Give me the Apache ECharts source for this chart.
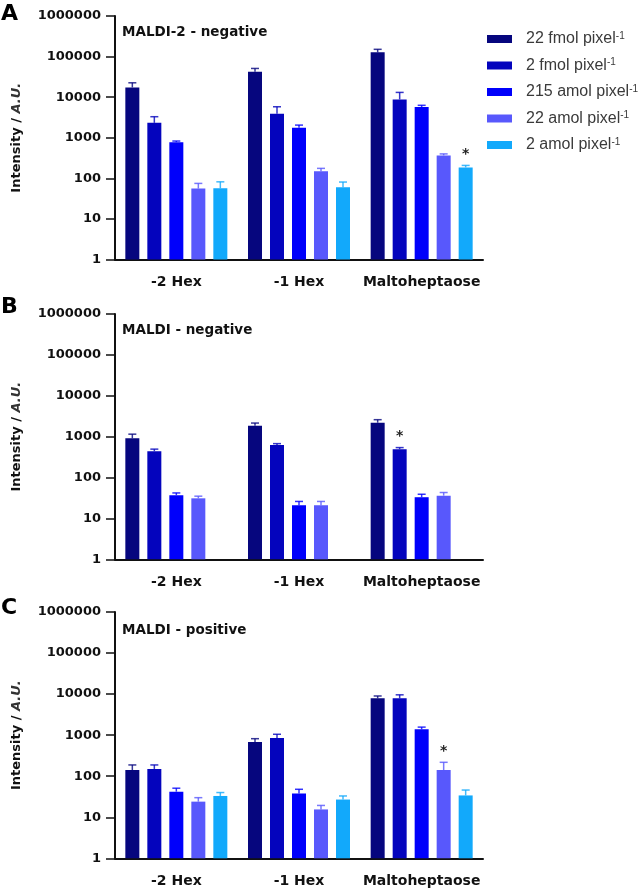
<!DOCTYPE html>
<html><head><meta charset="utf-8">
<script src="https://cdn.jsdelivr.net/npm/echarts@6/dist/echarts.min.js"></script>
<style>html,body{margin:0;padding:0;background:#fff}#c{width:642px;height:892px}</style>
</head><body><div id="c"></div>
<script>
// ---- data ----
const categories = ['-2 Hex', '-1 Hex', 'Maltoheptaose'];
const seriesNames = ['22 fmol pixel\u207B\u00B9', '2 fmol pixel\u207B\u00B9', '215 amol pixel\u207B\u00B9', '22 amol pixel\u207B\u00B9', '2 amol pixel\u207B\u00B9'];
const yTicks = [1, 10, 100, 1000, 10000, 100000, 1000000];
const panelTitles = ['MALDI-2 - negative', 'MALDI - negative', 'MALDI - positive'];
const panelLetters = ['A', 'B', 'C'];

// Panel A (MALDI-2 negative): mean and mean+error, per series across categories
const meanA = [[17400, 42000, 127000], [2330, 3900, 8800], [780, 1760, 5700], [56, 150, 367], [57, 60, 186]];
const upperA = [[22600, 51000, 151000], [3300, 5800, 13100], [830, 2050, 6300], [75, 176, 400], [82, 81, 208]];
const starsA = [[2, 4]];
// Panel B (MALDI negative)
const meanB = [[913, 1840, 2190], [442, 622, 495], [37, 21, 33], [31, 21, 36], [null, null, null]];
const upperB = [[1150, 2150, 2600], [495, 675, 540], [42, 26, 39], [35, 26, 43], [null, null, null]];
const starsB = [[2, 1]];
// Panel C (MALDI positive)
const meanC = [[141, 680, 7900], [150, 850, 7900], [42, 38, 1390], [24, 15.5, 141], [33, 27, 34]];
const upperC = [[188, 820, 9000], [188, 1050, 9600], [51, 48, 1570], [30, 19.4, 218], [40, 33, 46]];
const starsC = [[2, 3]];

// ---- styles ----
const COLORS = ['#06067e', '#0404bd', '#0000fb', '#5858fc', '#12a9fb'];
const BAR_W = 14, BAR_PITCH = 22;
const FONT = 'DejaVu Sans';
const grids = [
  {left: 115, width: 368, top: 16, height: 243.5},
  {left: 115, width: 368, top: 314, height: 245.3},
  {left: 115, width: 368, top: 612, height: 246.3}
];
const panels = [
  {mean: meanA, upper: upperA, stars: starsA},
  {mean: meanB, upper: upperB, stars: starsB},
  {mean: meanC, upper: upperC, stars: starsC}
];
const titleY = [33, 331, 631];
const letterY = [14, 307, 608];

function errRender(params, api) {
  const c = api.value(0), s = api.value(3), star = api.value(4);
  const p0 = api.coord([c, api.value(1)]);
  const p1 = api.coord([c, api.value(2)]);
  const x = p0[0] + (s - 2) * BAR_PITCH;
  const col = COLORS[s];
  const ch = [
    {type: 'line', shape: {x1: x, y1: p0[1], x2: x, y2: p1[1]}, style: {stroke: col, lineWidth: 1.5, opacity: 0.8}},
    {type: 'line', shape: {x1: x - 4, y1: p1[1], x2: x + 4, y2: p1[1]}, style: {stroke: col, lineWidth: 1.5, opacity: 0.8}}
  ];
  if (star) {
    ch.push({type: 'text', style: {text: '*', x: x, y: p1[1] - 4, fill: '#222', font: 'bold 14px ' + FONT, textAlign: 'center', textVerticalAlign: 'bottom'}});
  }
  return {type: 'group', children: ch};
}

const option = {
  animation: false,
  backgroundColor: '#fff',
  grid: grids,
  legend: {
    left: 482, top: 26, orient: 'vertical', itemWidth: 25, itemHeight: 8, itemGap: 10.5,
    icon: 'rect', data: seriesNames,
    formatter: n => '{a|' + n.replace('\u207B\u00B9', '') + '}{s|-1}',
    textStyle: {padding: [0, 0, 0, 9], rich: {
      a: {fontFamily: 'Liberation Sans', fontSize: 16, color: '#3a3a3a', lineHeight: 16, verticalAlign: 'bottom'},
      s: {fontFamily: 'Liberation Sans', fontSize: 10, color: '#3a3a3a', lineHeight: 16, verticalAlign: 'top', padding: [0, 0, 6, 0]}
    }}
  },
  xAxis: grids.map((g, i) => ({
    type: 'category', gridIndex: i, data: categories,
    axisLine: {lineStyle: {color: '#111', width: 2}},
    axisTick: {alignWithLabel: true, length: 6, lineStyle: {color: '#111', width: 1.5}},
    axisLabel: {interval: 0, fontFamily: FONT, fontWeight: 'bold', fontSize: 14, color: '#111', margin: 16}
  })),
  yAxis: grids.map((g, i) => ({
    type: 'log', logBase: 10, gridIndex: i, min: 1, max: 1000000,
    axisLine: {show: true, lineStyle: {color: '#111', width: 2}},
    axisTick: {show: true, length: 9, lineStyle: {color: '#111', width: 1.5}},
    splitLine: {show: false},
    axisLabel: {fontFamily: FONT, fontWeight: 'bold', fontSize: 13, color: '#111', margin: 14,
      formatter: v => String(Math.round(v))},
    name: '{b|Intensity / }{i|A.U.}', nameLocation: 'middle', nameGap: 92,
    nameTextStyle: {rich: {
      b: {fontFamily: FONT, fontWeight: 'bold', fontSize: 13, color: '#111'},
      i: {fontFamily: FONT, fontWeight: 'bold', fontStyle: 'italic', fontSize: 13, color: '#333'}
    }}
  })),
  graphic: [],
  series: []
};

panels.forEach((p, gi) => {
  seriesNames.forEach((name, s) => {
    option.series.push({
      type: 'bar', name: name, xAxisIndex: gi, yAxisIndex: gi,
      data: p.mean[s], barWidth: BAR_W, barGap: ((BAR_PITCH - BAR_W) / BAR_W * 100).toFixed(2) + '%',
      itemStyle: {color: COLORS[s]}
    });
  });
  const errData = [];
  p.mean.forEach((arr, s) => arr.forEach((m, c) => {
    if (m == null) return;
    const star = p.stars.some(st => st[0] === c && st[1] === s) ? 1 : 0;
    errData.push([c, m, p.upper[s][c], s, star]);
  }));
  option.series.push({
    type: 'custom', xAxisIndex: gi, yAxisIndex: gi, renderItem: errRender,
    data: errData, encode: {x: 0, y: [1, 2]}, z: 5, silent: true
  });
  option.graphic.push({type: 'text', left: 122, top: titleY[gi] - 8,
    style: {text: panelTitles[gi], font: 'bold 13.5px ' + FONT, fill: '#111'}});
  option.graphic.push({type: 'text', left: 1, top: letterY[gi] - 11,
    style: {text: panelLetters[gi], font: 'bold 22px ' + FONT, fill: '#000'}});
});

const chart = echarts.init(document.getElementById('c'), null, {renderer: 'canvas'});
chart.setOption(option);
</script>
</body></html>
